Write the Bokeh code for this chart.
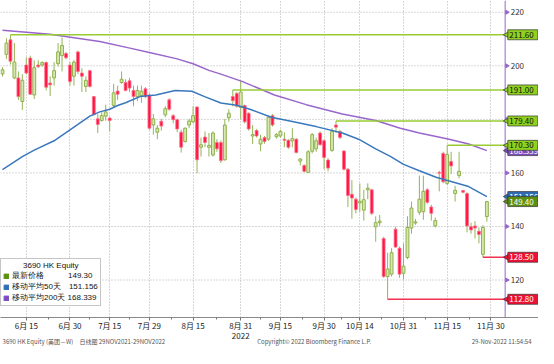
import math
import pandas as pd
from bokeh.plotting import figure
from bokeh.models import (ColumnDataSource, Range1d, FixedTicker, LinearAxis, Legend, LegendItem)
from bokeh.core.properties import value
from bokeh.embed import file_html
from bokeh.resources import INLINE

# ---------------- data ----------------
opens = [197.0, 204.3, 209.7, 195.5, 195.5, 186.7, 200.3, 202.9, 189.1, 200.3,
         200.3, 201.2, 193.6, 195.5, 200.8, 203.8, 204.6, 200.3, 196.1, 205.2,
         197.3, 192.3, 198.2, 188.5, 180.2, 179.6, 181.2, 180.5, 185.2, 190.6,
         193.8, 193.8, 194.4, 190.8, 188.5, 188.8, 191.4, 189.1, 177.9, 175.2,
         179.3, 181.7, 187.3, 181.4, 179.9, 175.2, 171.7, 177.9, 179.1, 184.6,
         169.6, 173.4, 169.6, 166.7, 171.4, 171.4, 164.9, 180.6, 188.5, 189.7,
         184.4, 185.2, 182.3, 173.8, 175.8, 170.8, 173.2, 172.6, 181.4, 173.5,
         173.8, 172.6, 172.2, 172.0, 172.6, 164.4, 162.8, 160.2, 168.1, 169.0,
         174.9, 172.0, 164.8, 168.4, 177.9, 175.5, 168.2, 161.4, 152.0, 150.2,
         148.8, 146.1, 153.7, 153.7, 139.9, 141.4, 135.5, 121.3, 122.2, 139.0,
         131.9, 122.5, 128.4, 139.4, 141.3, 145.3, 145.5, 153.7, 147.3, 140.2,
         160.2, 167.3, 156.1, 164.3, 152.3, 159.0, 153.4, 152.3, 139.9, 140.2,
         138.2, 129.6, 143.7]
highs = [199.5, 210.3, 211.6, 208.5, 197.9, 196.9, 203.2, 203.8, 202.1, 202.1,
         201.7, 201.7, 196.1, 201.4, 208.5, 210.6, 205.2, 201.4, 202.1, 205.7,
         199.1, 196.1, 198.5, 188.7, 182.0, 182.7, 185.5, 180.8, 193.3, 192.6,
         197.9, 195.0, 195.5, 192.6, 192.6, 192.6, 192.0, 189.7, 182.0, 177.9,
         180.2, 184.9, 187.9, 182.0, 180.2, 176.1, 177.0, 180.2, 184.9, 184.9,
         173.2, 175.5, 174.9, 175.5, 172.6, 172.1, 180.2, 183.8, 191.0, 190.2,
         194.5, 185.5, 182.6, 177.9, 176.4, 174.3, 173.8, 181.4, 182.0, 174.9,
         176.1, 175.2, 172.6, 176.7, 173.0, 165.5, 163.2, 168.5, 174.9, 173.2,
         175.5, 172.6, 165.5, 176.7, 179.4, 176.1, 168.5, 161.8, 157.3, 150.8,
         156.1, 153.7, 156.1, 154.0, 143.8, 144.3, 136.1, 130.2, 131.9, 139.9,
         132.5, 133.7, 143.8, 149.3, 142.8, 159.0, 159.0, 154.3, 148.1, 143.3,
         160.8, 167.9, 170.3, 167.9, 155.2, 167.9, 153.7, 152.8, 141.4, 142.0,
         139.6, 140.5, 149.6]
lows = [196.0, 202.5, 200.5, 195.0, 187.3, 183.5, 196.9, 189.1, 187.6, 199.1,
        199.7, 190.8, 188.7, 192.6, 199.7, 197.9, 202.5, 192.6, 192.6, 196.9,
        190.2, 190.2, 191.9, 181.4, 174.9, 179.2, 179.5, 175.5, 184.5, 187.3,
        193.3, 190.5, 190.2, 184.9, 186.9, 186.2, 187.9, 176.1, 174.3, 172.6,
        175.8, 180.8, 183.2, 178.5, 175.2, 167.6, 171.4, 176.7, 178.5, 159.9,
        166.1, 169.6, 166.1, 166.1, 167.9, 163.7, 164.6, 179.1, 184.9, 184.4,
        180.2, 178.5, 175.8, 170.8, 173.2, 168.1, 170.9, 172.0, 177.3, 172.8,
        173.2, 169.6, 169.0, 169.6, 167.3, 162.8, 160.2, 160.0, 167.3, 167.9,
        170.3, 161.4, 160.6, 167.9, 174.9, 172.6, 160.9, 147.3, 142.9, 144.9,
        145.5, 142.2, 150.2, 144.3, 134.3, 140.2, 120.8, 112.8, 121.3, 132.0,
        120.8, 120.2, 127.8, 137.3, 140.6, 144.3, 142.5, 148.5, 142.2, 139.6,
        153.1, 156.1, 155.5, 159.6, 149.3, 157.9, 152.4, 137.8, 137.3, 135.5,
        133.7, 128.5, 141.8]
closes = [198.5, 208.5, 201.7, 201.4, 188.5, 194.6, 197.3, 189.4, 199.3, 199.7,
          201.2, 192.0, 192.9, 198.2, 205.2, 207.6, 203.0, 194.1, 201.4, 197.9,
          196.1, 194.6, 192.3, 181.8, 178.1, 181.4, 182.8, 179.6, 189.9, 189.4,
          195.0, 190.8, 191.7, 188.5, 190.8, 190.5, 188.5, 176.7, 180.2, 176.7,
          177.5, 184.0, 183.8, 179.9, 176.4, 169.6, 176.7, 179.4, 181.4, 164.9,
          170.5, 171.4, 170.3, 174.9, 169.0, 164.6, 177.9, 182.3, 187.0, 184.9,
          190.2, 179.1, 176.4, 174.3, 173.8, 172.6, 171.7, 180.8, 177.9, 174.3,
          175.5, 172.2, 169.6, 172.8, 167.6, 165.2, 160.6, 167.9, 174.3, 172.0,
          170.5, 165.8, 161.8, 175.5, 177.1, 173.2, 161.4, 151.6, 150.6, 146.3,
          149.4, 150.0, 154.3, 144.9, 141.4, 142.0, 121.3, 124.1, 130.2, 132.3,
          122.2, 125.2, 139.6, 146.9, 141.7, 150.2, 153.1, 149.0, 144.9, 142.2,
          159.9, 156.7, 166.9, 162.6, 153.5, 160.6, 152.8, 140.2, 138.7, 139.4,
          137.0, 139.6, 149.3]

holidays = ["2022-07-01", "2022-09-12", "2022-10-04"]
first_day = "2022-06-07"
last_axis_day = "2022-11-30"
tick_dates = ["2022-06-15", "2022-06-30", "2022-07-15", "2022-07-29", "2022-08-15", "2022-08-31",
              "2022-09-15", "2022-09-30", "2022-10-14", "2022-10-31", "2022-11-15", "2022-11-30"]
tick_labels = ["6月 15", "6月 30", "7月 15", "7月 29", "8月 15", "8月 31",
               "9月 15", "9月 30", "10月 14", "10月 31", "11月 15", "11月 30"]
year_label_date = "2022-08-31"
year_label = "2022"

ma50_x = [0, 5, 8, 13, 17, 22, 24.5, 27, 29, 31, 34.6, 38.6, 43.5, 47.7, 50.9, 55, 59, 62.3,
          67.7, 73.3, 79, 85.6, 89.7, 94, 97.8, 101, 105, 109.2, 113.2, 117.4, 122]
ma50_v = [161.2, 166.1, 168.5, 172.0, 176.1, 181.2, 182.8, 183.8, 185.2, 186.2, 188.5, 189.1,
          190.8, 190.5, 188.5, 186.1, 185.3, 183.8, 180.8, 179.1, 177.3, 174.9, 172.6, 169.0,
          166.1, 163.2, 160.8, 158.4, 156.7, 154.9, 151.156]
ma200_x = [0, 12, 24.5, 31.8, 37, 44, 48, 52, 55, 60.3, 68.5, 76.5, 85.6, 94, 100.2, 105,
           112.5, 117.4, 122]
ma200_v = [213.3, 211.8, 209.1, 206.7, 205.0, 202.6, 200.8, 198.3, 196.9, 194.2, 189.1, 185.5,
           182.0, 179.6, 176.7, 174.9, 172.6, 170.8, 168.339]

res_levels = [211.60, 191.00, 179.40, 170.30]
res_start = [2, 58, 84, 112]
sup_levels = [128.50, 112.80]
sup_start = [121, 97]

last_price = 149.30
last_tag = "149.40"
ma50_last = 151.156
ma200_last = 168.339
y_ticks = [120, 140, 160, 180, 200, 220]

footer_left = "3690 HK Equity (美团－W)\u2003日线图 29NOV2021-29NOV2022"
footer_mid = "Copyright© 2022 Bloomberg Finance L.P."
footer_right = "29-Nov-2022 11:54:54"

# ---------------- calendar ----------------
days = [d for d in pd.bdate_range(first_day, last_axis_day) if d.strftime("%Y-%m-%d") not in holidays]
pos = {d.strftime("%Y-%m-%d"): i for i, d in enumerate(days)}
tick_idx = [pos[d] for d in tick_dates]
minor_idx = [(a + b) / 2 for a, b in zip(tick_idx[:-1], tick_idx[1:])]

# ---------------- figure ----------------
FONT = "Noto Sans CJK SC"
LFONT = "Liberation Sans"
X0, X1 = -0.5, 135.0      # full canvas width
XA = 126.6                # price-axis line position
Y0, Y1 = 106.0, 224.4

p = figure(width=538, height=348, output_backend="svg", toolbar_location=None,
           x_range=Range1d(X0, X1), y_range=Range1d(Y0, Y1),
           x_axis_location="below", y_axis_location=None,
           min_border_left=0, min_border_right=0, min_border_top=0, min_border_bottom=0,
           outline_line_color=None, background_fill_color="white", border_fill_color="white")

xa = p.xaxis[0]
xa.ticker = FixedTicker(ticks=tick_idx, minor_ticks=minor_idx)
xa.major_label_overrides = {i: l for i, l in zip(tick_idx, tick_labels)}
xa.axis_line_color = "#8a8a8a"
xa.major_tick_line_color = "#777777"
xa.minor_tick_line_color = "#777777"
xa.major_tick_out = 3
xa.major_tick_in = 0
xa.minor_tick_out = 2
xa.minor_tick_in = 0
xa.major_label_text_font = FONT
xa.major_label_text_font_size = "8px"
xa.major_label_text_color = "#222222"
xa.major_label_standoff = -1

yr_axis = LinearAxis(ticker=FixedTicker(ticks=[pos[year_label_date]]),
                     major_label_overrides={pos[year_label_date]: year_label},
                     axis_line_color=None, major_tick_line_color=None, minor_tick_line_color=None,
                     major_tick_out=0, major_tick_in=0, major_label_standoff=-1,
                     major_label_text_font=FONT, major_label_text_font_size="8px",
                     major_label_text_color="#222222")
p.add_layout(yr_axis, "below")

foot_pos = [20.5, 78.5, 125.7]
foot_axis = LinearAxis(ticker=FixedTicker(ticks=foot_pos),
                       major_label_overrides=dict(zip(foot_pos, [footer_left, footer_mid, footer_right])),
                       axis_line_color=None, major_tick_line_color=None, minor_tick_line_color=None,
                       major_tick_out=0, major_tick_in=0, major_label_standoff=-5,
                       major_label_text_font=FONT, major_label_text_font_size="6px",
                       major_label_text_color="#555555")
p.add_layout(foot_axis, "below")

for g in p.xgrid:
    g.ticker = FixedTicker(ticks=tick_idx)
    g.grid_line_color = "#b0b0b0"
    g.grid_line_dash = "1 2"
for g in p.ygrid:
    g.visible = False

# horizontal grid (stops at the price axis)
p.segment(x0=[X0] * len(y_ticks), y0=y_ticks, x1=[XA] * len(y_ticks), y1=y_ticks,
          line_color="#b0b0b0", line_dash="1 2", line_width=1)

# ---------------- candles ----------------
n = len(opens)
up_i = [i for i in range(n) if closes[i] >= opens[i]]
dn_i = [i for i in range(n) if closes[i] < opens[i]]

wick_src = ColumnDataSource(dict(x=list(range(n)), high=highs, low=lows))
p.segment(x0="x", y0="low", x1="x", y1="high", source=wick_src, line_color="#93b555", line_width=1)

up_src = ColumnDataSource(dict(x=up_i, top=[closes[i] for i in up_i], bottom=[opens[i] for i in up_i]))
dn_src = ColumnDataSource(dict(x=dn_i, top=[opens[i] for i in dn_i], bottom=[closes[i] for i in dn_i]))
p.vbar(x="x", top="top", bottom="bottom", width=0.72, source=up_src,
       fill_color="#d5e8ae", line_color="#8fb04c", line_width=1)
p.vbar(x="x", top="top", bottom="bottom", width=0.72, source=dn_src,
       fill_color="#ff1744", line_color="#ff6f8a", line_width=0.8)

# ---------------- moving averages ----------------
p.line(ma200_x, ma200_v, line_color="#9966cc", line_width=1.5)
p.line(ma50_x, ma50_v, line_color="#3a78bd", line_width=1.5)

# ---------------- level lines ----------------
p.segment(x0=res_start, y0=res_levels, x1=[XA] * len(res_levels), y1=res_levels,
          line_color="#99cc33", line_width=1.5)
p.segment(x0=sup_start, y0=sup_levels, x1=[XA] * len(sup_levels), y1=sup_levels,
          line_color="#f2304f", line_width=1.5)

# ---------------- price axis (right) ----------------
p.segment(x0=[XA], y0=[Y0], x1=[XA], y1=[Y1], line_color="#9966cc", line_width=1)
p.scatter(x=[XA + 0.45] * len(y_ticks), y=y_ticks, marker="triangle", angle=-math.pi / 2,
          size=4, fill_color="#9966cc", line_color="#9966cc")
p.text(x=[XA + 1.4] * len(y_ticks), y=y_ticks, text=[str(t) for t in y_ticks],
       text_font=value(FONT), text_font_size="8px", text_baseline="middle", text_align="left",
       text_color="#333333")

# value tags
tags = [(f"{res_levels[0]:.2f}", res_levels[0], "#8fd11e", "#111111"),
        (f"{res_levels[1]:.2f}", res_levels[1], "#8fd11e", "#111111"),
        (f"{res_levels[2]:.2f}", res_levels[2], "#8fd11e", "#111111"),
        (f"{ma200_last:.3f}", ma200_last, "#7b4cc0", "#ffffff"),
        (f"{res_levels[3]:.2f}", res_levels[3], "#8fd11e", "#111111"),
        (f"{ma50_last:.3f}", ma50_last, "#2f6db5", "#ffffff"),
        (last_tag, last_price, "#5c8f0d", "#ffffff"),
        (f"{sup_levels[0]:.2f}", sup_levels[0], "#ee1133", "#ffffff"),
        (f"{sup_levels[1]:.2f}", sup_levels[1], "#ee1133", "#ffffff")]
for txt, yv, fill, tcol in tags:
    p.scatter(x=[XA + 0.55], y=[yv], marker="triangle", angle=math.pi / 2, size=7,
              fill_color=fill, line_color="#333333", line_width=0.7)
    p.rect(x=[XA + 4.45], y=[yv], width=30, height=10, width_units="screen", height_units="screen",
           fill_color=fill, line_color="#333333", line_width=0.7)
    p.text(x=[XA + 1.05], y=[yv], text=[txt], text_font=value(FONT), text_font_size="8px",
           text_baseline="middle", text_align="left", text_color=tcol)

# ---------------- legend ----------------
nan = float("nan")
r1 = p.quad(left=[nan], right=[nan], top=[nan], bottom=[nan], fill_color="#5c8f0d", line_color="#5c8f0d")
r2 = p.quad(left=[nan], right=[nan], top=[nan], bottom=[nan], fill_color="#2f6db5", line_color="#2f6db5")
r3 = p.quad(left=[nan], right=[nan], top=[nan], bottom=[nan], fill_color="#7b4cc0", line_color="#7b4cc0")
legend = Legend(
    items=[LegendItem(label="最新价格\u3000\u3000\u3000" + f"{last_price:.2f}", renderers=[r1]),
           LegendItem(label="移动平均50天\u2002\u2002" + f"{ma50_last:.3f}", renderers=[r2]),
           LegendItem(label="移动平均200天 " + f"{ma200_last:.3f}", renderers=[r3])],
    title="\u2002\u2002\u2002\u2002\u20023690 HK Equity",
    location=(0, 11), margin=0, padding=2, spacing=-1,
    label_height=7, glyph_height=6, glyph_width=6, label_standoff=3,
    label_text_font=LFONT, label_text_font_size="8px", label_text_color="#111111",
    title_text_font=LFONT, title_text_font_size="8px", title_text_font_style="normal",
    title_text_color="#111111", title_standoff=-1,
    border_line_color="#8c8c8c", border_line_width=1,
    background_fill_color="white", background_fill_alpha=1.0)
p.add_layout(legend)

open("out.html", "w").write(file_html(p, INLINE))
